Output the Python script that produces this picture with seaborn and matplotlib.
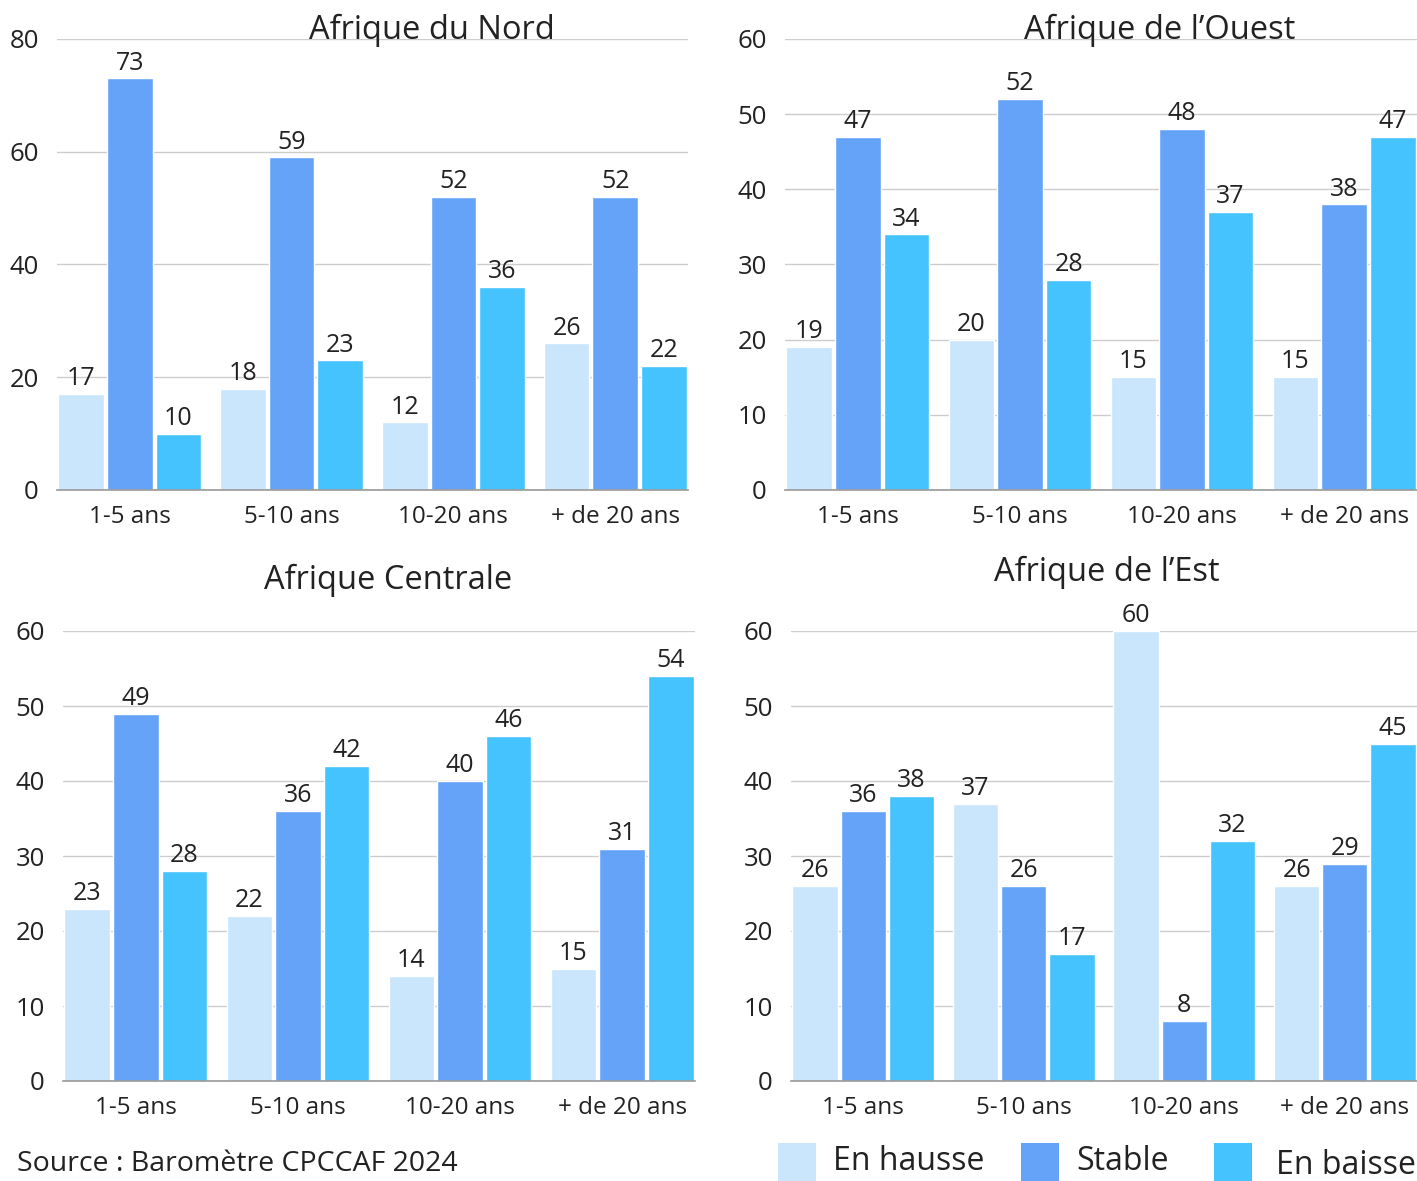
import matplotlib
matplotlib.use("Agg")
import matplotlib.pyplot as plt
import seaborn as sns
import pandas as pd
from matplotlib.patches import Rectangle

# Data
periods = ["1-5 ans", "5-10 ans", "10-20 ans", "+ de 20 ans"]
series_names = ["En hausse", "Stable", "En baisse"]

nord_hausse = [17, 18, 12, 26]
nord_stable = [73, 59, 52, 52]
nord_baisse = [10, 23, 36, 22]

ouest_hausse = [19, 20, 15, 15]
ouest_stable = [47, 52, 48, 38]
ouest_baisse = [34, 28, 37, 47]

centre_hausse = [23, 22, 14, 15]
centre_stable = [49, 36, 40, 31]
centre_baisse = [28, 42, 46, 54]

est_hausse = [26, 37, 60, 26]
est_stable = [36, 26, 8, 29]
est_baisse = [38, 17, 32, 45]

colors = ["#C9E6FD", "#65A3F8", "#45C3FE"]

sns.set_theme(style="white")
plt.rcParams["font.family"] = ["Open Sans", "DejaVu Sans"]

fig = plt.figure(figsize=(14.17, 11.81), dpi=100)
W, H = 1417, 1181


def make_df(h, s, b):
    rows = []
    for name, vals in zip(series_names, [h, s, b]):
        for p, v in zip(periods, vals):
            rows.append({"period": p, "series": name, "value": v})
    return pd.DataFrame(rows)


panels = [
    ("Afrique du Nord", (nord_hausse, nord_stable, nord_baisse), (57, 39, 688, 490), 80, 20, (432, 30)),
    ("Afrique de l\u2019Ouest", (ouest_hausse, ouest_stable, ouest_baisse), (785, 39, 1417, 490), 60, 10, (1160, 30)),
    ("Afrique Centrale", (centre_hausse, centre_stable, centre_baisse), (63, 631, 695, 1081), 60, 10, (388, 580)),
    ("Afrique de l\u2019Est", (est_hausse, est_stable, est_baisse), (791, 631, 1417, 1081), 60, 10, (1107, 572)),
]

for title, (h, s, b), (x0, y0, x1, y1), ymax, step, (tx, ty) in panels:
    ax = fig.add_axes([x0 / W, 1 - y1 / H, (x1 - x0) / W, (y1 - y0) / H])
    df = make_df(h, s, b)
    sns.barplot(data=df, x="period", y="value", hue="series", order=periods,
                hue_order=series_names, palette=colors, width=0.9, gap=0.06,
                saturation=1, legend=False, ax=ax)
    for cont in ax.containers:
        ax.bar_label(cont, fontsize=18, padding=2, color="#222222")
    ax.set_xlim(-0.45, 3.45)
    ax.set_ylim(0, ymax)
    ax.set_yticks(range(0, ymax + 1, step))
    ax.yaxis.grid(True, color="#cccccc", linewidth=1)
    ax.set_axisbelow(True)
    for side in ["top", "right", "left"]:
        ax.spines[side].set_visible(False)
    ax.spines["bottom"].set_color("#999999")
    ax.spines["bottom"].set_linewidth(1.2)
    ax.tick_params(axis="y", length=0, pad=13, labelsize=18.5, labelcolor="#222222")
    ax.tick_params(axis="x", length=0, pad=11, labelsize=17.5, labelcolor="#222222")
    ax.set_xlabel("")
    ax.set_ylabel("")
    fig.text(tx / W, 1 - ty / H, title, ha="center", va="center", fontsize=23.5, color="#222222")

# Legend: colour swatches with labels along the bottom edge
legend_items = [(778, 833, 1162), (1021, 1076, 1162), (1214, 1276, 1165)]
for (px, lx, ly), name, c in zip(legend_items, series_names, colors):
    fig.patches.append(Rectangle((px / W, 0), 38 / W, (H - 1143) / H,
                                 transform=fig.transFigure, facecolor=c, edgecolor="none"))
    fig.text(lx / W, 1 - ly / H, name, ha="left", va="center", fontsize=23, color="#222222")

fig.text(17 / W, 1 - 1150 / H, "Source : Baromètre CPCCAF 2024", ha="left", va="top",
         fontsize=20.5, color="#222222")

fig.savefig("out.png", dpi=100)
